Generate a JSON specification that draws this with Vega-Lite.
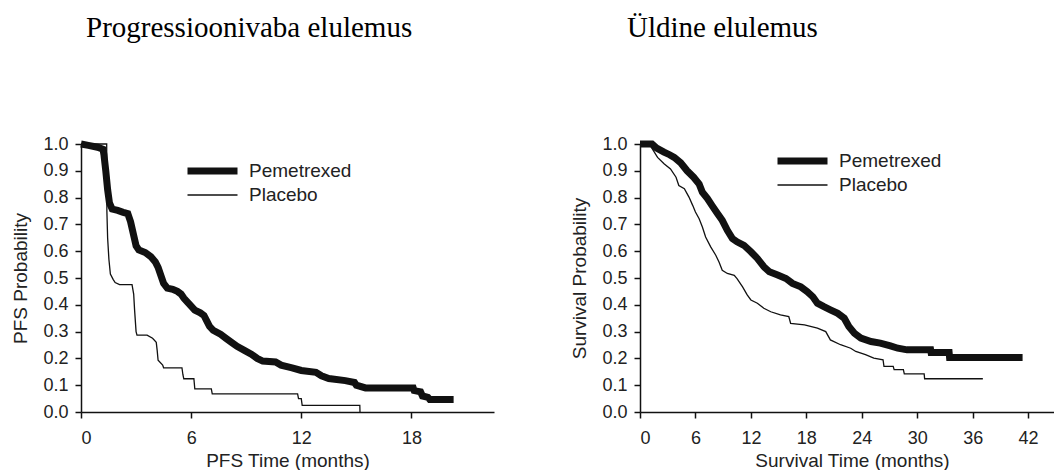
{
  "$schema": "https://vega.github.io/schema/vega-lite/v6.json",
  "padding": {"left": 11, "top": 14, "right": 0, "bottom": 0},
  "background": "white",
  "spacing": 76,
  "resolve": {
    "scale": {"strokeWidth": "independent"},
    "legend": {"strokeWidth": "independent"}
  },
  "datasets": {
    "pfs": [
      {"arm": "Pemetrexed", "t": 0, "p": 1.0},
      {"arm": "Pemetrexed", "t": 0.4, "p": 0.995},
      {"arm": "Pemetrexed", "t": 0.9, "p": 0.988},
      {"arm": "Pemetrexed", "t": 1.2, "p": 0.98},
      {"arm": "Pemetrexed", "t": 1.25, "p": 0.96},
      {"arm": "Pemetrexed", "t": 1.35, "p": 0.9},
      {"arm": "Pemetrexed", "t": 1.45, "p": 0.83},
      {"arm": "Pemetrexed", "t": 1.55, "p": 0.78},
      {"arm": "Pemetrexed", "t": 1.7, "p": 0.757},
      {"arm": "Pemetrexed", "t": 2.0, "p": 0.752},
      {"arm": "Pemetrexed", "t": 2.3, "p": 0.745},
      {"arm": "Pemetrexed", "t": 2.55, "p": 0.74},
      {"arm": "Pemetrexed", "t": 2.7, "p": 0.71},
      {"arm": "Pemetrexed", "t": 2.8, "p": 0.68},
      {"arm": "Pemetrexed", "t": 2.9, "p": 0.65},
      {"arm": "Pemetrexed", "t": 3.0, "p": 0.62},
      {"arm": "Pemetrexed", "t": 3.15, "p": 0.605},
      {"arm": "Pemetrexed", "t": 3.5, "p": 0.595},
      {"arm": "Pemetrexed", "t": 3.8, "p": 0.58},
      {"arm": "Pemetrexed", "t": 4.05, "p": 0.56},
      {"arm": "Pemetrexed", "t": 4.2, "p": 0.54},
      {"arm": "Pemetrexed", "t": 4.35, "p": 0.51},
      {"arm": "Pemetrexed", "t": 4.5, "p": 0.48},
      {"arm": "Pemetrexed", "t": 4.7, "p": 0.462},
      {"arm": "Pemetrexed", "t": 5.0, "p": 0.458},
      {"arm": "Pemetrexed", "t": 5.25, "p": 0.45},
      {"arm": "Pemetrexed", "t": 5.45, "p": 0.44},
      {"arm": "Pemetrexed", "t": 5.6, "p": 0.425},
      {"arm": "Pemetrexed", "t": 5.8, "p": 0.41},
      {"arm": "Pemetrexed", "t": 6.0, "p": 0.395},
      {"arm": "Pemetrexed", "t": 6.2, "p": 0.38},
      {"arm": "Pemetrexed", "t": 6.5, "p": 0.37},
      {"arm": "Pemetrexed", "t": 6.7, "p": 0.36},
      {"arm": "Pemetrexed", "t": 6.85, "p": 0.34},
      {"arm": "Pemetrexed", "t": 7.0, "p": 0.32},
      {"arm": "Pemetrexed", "t": 7.2, "p": 0.305},
      {"arm": "Pemetrexed", "t": 7.6, "p": 0.29},
      {"arm": "Pemetrexed", "t": 7.9, "p": 0.275},
      {"arm": "Pemetrexed", "t": 8.2, "p": 0.26},
      {"arm": "Pemetrexed", "t": 8.5, "p": 0.245},
      {"arm": "Pemetrexed", "t": 8.9, "p": 0.23},
      {"arm": "Pemetrexed", "t": 9.3, "p": 0.215},
      {"arm": "Pemetrexed", "t": 9.6, "p": 0.2},
      {"arm": "Pemetrexed", "t": 9.9, "p": 0.19},
      {"arm": "Pemetrexed", "t": 10.6, "p": 0.187},
      {"arm": "Pemetrexed", "t": 10.9, "p": 0.175},
      {"arm": "Pemetrexed", "t": 11.5, "p": 0.165},
      {"arm": "Pemetrexed", "t": 12.0, "p": 0.155},
      {"arm": "Pemetrexed", "t": 12.8, "p": 0.148},
      {"arm": "Pemetrexed", "t": 13.1, "p": 0.135},
      {"arm": "Pemetrexed", "t": 13.5, "p": 0.125},
      {"arm": "Pemetrexed", "t": 14.4, "p": 0.117},
      {"arm": "Pemetrexed", "t": 14.9, "p": 0.11},
      {"arm": "Pemetrexed", "t": 15.0, "p": 0.1},
      {"arm": "Pemetrexed", "t": 15.5, "p": 0.09},
      {"arm": "Pemetrexed", "t": 18.1, "p": 0.09},
      {"arm": "Pemetrexed", "t": 18.15, "p": 0.08},
      {"arm": "Pemetrexed", "t": 18.5, "p": 0.075},
      {"arm": "Pemetrexed", "t": 18.6, "p": 0.06},
      {"arm": "Pemetrexed", "t": 18.9, "p": 0.055},
      {"arm": "Pemetrexed", "t": 19.0, "p": 0.047},
      {"arm": "Pemetrexed", "t": 20.3, "p": 0.047},
      {"arm": "Placebo", "t": 0, "p": 1.0},
      {"arm": "Placebo", "t": 1.4, "p": 1.0},
      {"arm": "Placebo", "t": 1.41, "p": 0.75},
      {"arm": "Placebo", "t": 1.45, "p": 0.65},
      {"arm": "Placebo", "t": 1.52, "p": 0.57},
      {"arm": "Placebo", "t": 1.6, "p": 0.515},
      {"arm": "Placebo", "t": 1.75, "p": 0.495},
      {"arm": "Placebo", "t": 1.86, "p": 0.483},
      {"arm": "Placebo", "t": 2.1, "p": 0.475},
      {"arm": "Placebo", "t": 2.78, "p": 0.475},
      {"arm": "Placebo", "t": 2.87, "p": 0.44},
      {"arm": "Placebo", "t": 2.92, "p": 0.38},
      {"arm": "Placebo", "t": 3.0, "p": 0.3},
      {"arm": "Placebo", "t": 3.05, "p": 0.287},
      {"arm": "Placebo", "t": 3.6, "p": 0.287},
      {"arm": "Placebo", "t": 3.9, "p": 0.275},
      {"arm": "Placebo", "t": 4.1, "p": 0.26},
      {"arm": "Placebo", "t": 4.15, "p": 0.23},
      {"arm": "Placebo", "t": 4.2, "p": 0.193},
      {"arm": "Placebo", "t": 4.45, "p": 0.175},
      {"arm": "Placebo", "t": 4.5, "p": 0.165},
      {"arm": "Placebo", "t": 5.5, "p": 0.165},
      {"arm": "Placebo", "t": 5.55, "p": 0.14},
      {"arm": "Placebo", "t": 5.6, "p": 0.124},
      {"arm": "Placebo", "t": 6.15, "p": 0.124},
      {"arm": "Placebo", "t": 6.2, "p": 0.086},
      {"arm": "Placebo", "t": 7.1, "p": 0.086},
      {"arm": "Placebo", "t": 7.15, "p": 0.068},
      {"arm": "Placebo", "t": 11.8, "p": 0.068},
      {"arm": "Placebo", "t": 11.85, "p": 0.05},
      {"arm": "Placebo", "t": 12.0, "p": 0.05},
      {"arm": "Placebo", "t": 12.05, "p": 0.025},
      {"arm": "Placebo", "t": 15.19, "p": 0.025},
      {"arm": "Placebo", "t": 15.2, "p": 0.0}
    ],
    "os": [
      {"arm": "Pemetrexed", "t": 0, "p": 1.0},
      {"arm": "Pemetrexed", "t": 1.3, "p": 1.0},
      {"arm": "Pemetrexed", "t": 1.8, "p": 0.985},
      {"arm": "Pemetrexed", "t": 2.6, "p": 0.97},
      {"arm": "Pemetrexed", "t": 3.2, "p": 0.96},
      {"arm": "Pemetrexed", "t": 3.7, "p": 0.95},
      {"arm": "Pemetrexed", "t": 4.4, "p": 0.93},
      {"arm": "Pemetrexed", "t": 5.1, "p": 0.9},
      {"arm": "Pemetrexed", "t": 5.8, "p": 0.876},
      {"arm": "Pemetrexed", "t": 6.4, "p": 0.851},
      {"arm": "Pemetrexed", "t": 6.75, "p": 0.82},
      {"arm": "Pemetrexed", "t": 7.3, "p": 0.796},
      {"arm": "Pemetrexed", "t": 7.8, "p": 0.77},
      {"arm": "Pemetrexed", "t": 8.4, "p": 0.74},
      {"arm": "Pemetrexed", "t": 8.9, "p": 0.715},
      {"arm": "Pemetrexed", "t": 9.45, "p": 0.678},
      {"arm": "Pemetrexed", "t": 10.0, "p": 0.647},
      {"arm": "Pemetrexed", "t": 10.5, "p": 0.635},
      {"arm": "Pemetrexed", "t": 11.25, "p": 0.622},
      {"arm": "Pemetrexed", "t": 12.0, "p": 0.598},
      {"arm": "Pemetrexed", "t": 12.7, "p": 0.573},
      {"arm": "Pemetrexed", "t": 13.4, "p": 0.542},
      {"arm": "Pemetrexed", "t": 14.0, "p": 0.523},
      {"arm": "Pemetrexed", "t": 14.9, "p": 0.511},
      {"arm": "Pemetrexed", "t": 15.8, "p": 0.498},
      {"arm": "Pemetrexed", "t": 16.5, "p": 0.48},
      {"arm": "Pemetrexed", "t": 17.4, "p": 0.467},
      {"arm": "Pemetrexed", "t": 18.1, "p": 0.449},
      {"arm": "Pemetrexed", "t": 18.7, "p": 0.43},
      {"arm": "Pemetrexed", "t": 19.2, "p": 0.406},
      {"arm": "Pemetrexed", "t": 19.9, "p": 0.393},
      {"arm": "Pemetrexed", "t": 20.6, "p": 0.381},
      {"arm": "Pemetrexed", "t": 21.4, "p": 0.368},
      {"arm": "Pemetrexed", "t": 22.1, "p": 0.35},
      {"arm": "Pemetrexed", "t": 22.6, "p": 0.319},
      {"arm": "Pemetrexed", "t": 23.2, "p": 0.294},
      {"arm": "Pemetrexed", "t": 23.9, "p": 0.276},
      {"arm": "Pemetrexed", "t": 25.0, "p": 0.263},
      {"arm": "Pemetrexed", "t": 26.0, "p": 0.257},
      {"arm": "Pemetrexed", "t": 27.1, "p": 0.247},
      {"arm": "Pemetrexed", "t": 27.9, "p": 0.238},
      {"arm": "Pemetrexed", "t": 28.9, "p": 0.232},
      {"arm": "Pemetrexed", "t": 31.45, "p": 0.232},
      {"arm": "Pemetrexed", "t": 31.5, "p": 0.222},
      {"arm": "Pemetrexed", "t": 33.45, "p": 0.222},
      {"arm": "Pemetrexed", "t": 33.5, "p": 0.203},
      {"arm": "Pemetrexed", "t": 41.4, "p": 0.203},
      {"arm": "Placebo", "t": 0, "p": 1.0},
      {"arm": "Placebo", "t": 1.0, "p": 1.0},
      {"arm": "Placebo", "t": 1.9, "p": 0.95},
      {"arm": "Placebo", "t": 2.6, "p": 0.926},
      {"arm": "Placebo", "t": 3.3, "p": 0.907},
      {"arm": "Placebo", "t": 3.9, "p": 0.876},
      {"arm": "Placebo", "t": 4.2, "p": 0.845},
      {"arm": "Placebo", "t": 4.8, "p": 0.833},
      {"arm": "Placebo", "t": 5.3, "p": 0.802},
      {"arm": "Placebo", "t": 5.7, "p": 0.771},
      {"arm": "Placebo", "t": 6.0, "p": 0.746},
      {"arm": "Placebo", "t": 6.4, "p": 0.721},
      {"arm": "Placebo", "t": 6.75, "p": 0.69},
      {"arm": "Placebo", "t": 7.1, "p": 0.653},
      {"arm": "Placebo", "t": 7.65, "p": 0.616},
      {"arm": "Placebo", "t": 8.2, "p": 0.585},
      {"arm": "Placebo", "t": 8.55, "p": 0.56},
      {"arm": "Placebo", "t": 8.9, "p": 0.529},
      {"arm": "Placebo", "t": 9.45, "p": 0.517},
      {"arm": "Placebo", "t": 10.2, "p": 0.51},
      {"arm": "Placebo", "t": 10.5, "p": 0.498},
      {"arm": "Placebo", "t": 11.1, "p": 0.467},
      {"arm": "Placebo", "t": 11.6, "p": 0.437},
      {"arm": "Placebo", "t": 12.0, "p": 0.418},
      {"arm": "Placebo", "t": 12.7, "p": 0.406},
      {"arm": "Placebo", "t": 13.4, "p": 0.387},
      {"arm": "Placebo", "t": 14.15, "p": 0.374},
      {"arm": "Placebo", "t": 15.2, "p": 0.362},
      {"arm": "Placebo", "t": 16.1, "p": 0.356},
      {"arm": "Placebo", "t": 16.3, "p": 0.331},
      {"arm": "Placebo", "t": 17.8, "p": 0.325},
      {"arm": "Placebo", "t": 19.2, "p": 0.313},
      {"arm": "Placebo", "t": 20.1, "p": 0.3},
      {"arm": "Placebo", "t": 20.6, "p": 0.269},
      {"arm": "Placebo", "t": 21.7, "p": 0.251},
      {"arm": "Placebo", "t": 22.8, "p": 0.238},
      {"arm": "Placebo", "t": 23.35, "p": 0.226},
      {"arm": "Placebo", "t": 24.4, "p": 0.214},
      {"arm": "Placebo", "t": 25.3, "p": 0.201},
      {"arm": "Placebo", "t": 26.3, "p": 0.195},
      {"arm": "Placebo", "t": 26.4, "p": 0.17},
      {"arm": "Placebo", "t": 27.4, "p": 0.17},
      {"arm": "Placebo", "t": 27.5, "p": 0.158},
      {"arm": "Placebo", "t": 28.5, "p": 0.158},
      {"arm": "Placebo", "t": 28.6, "p": 0.142},
      {"arm": "Placebo", "t": 30.75, "p": 0.142},
      {"arm": "Placebo", "t": 30.8, "p": 0.124},
      {"arm": "Placebo", "t": 37.1, "p": 0.124}
    ]
  },
  "config": {
    "view": {"stroke": null},
    "font": "Liberation Sans",
    "title": {
      "font": "Liberation Serif",
      "fontSize": 29,
      "fontWeight": "normal",
      "color": "#000000",
      "anchor": "start",
      "frame": "group",
      "baseline": "alphabetic"
    },
    "axis": {
      "grid": false,
      "domainColor": "#111111",
      "domainWidth": 1.5,
      "tickColor": "#111111",
      "tickWidth": 1.5,
      "tickSize": 6,
      "labelFont": "Liberation Sans",
      "labelFontSize": 18,
      "labelColor": "#222222",
      "titleFont": "Liberation Sans",
      "titleFontSize": 19,
      "titleFontWeight": "normal",
      "titleColor": "#222222"
    },
    "axisX": {"labelPadding": 11, "titlePadding": 4},
    "axisY": {"labelPadding": 7, "titlePadding": 12},
    "legend": {
      "orient": "none",
      "title": null,
      "symbolType": "stroke",
      "symbolSize": 2500,
      "symbolStrokeColor": "#111111",
      "labelFont": "Liberation Sans",
      "labelFontSize": 19,
      "labelColor": "#222222",
      "labelOffset": 8,
      "clipHeight": 24,
      "rowPadding": 0
    }
  },
  "hconcat": [
    {
      "title": {"text": "Progressioonivaba elulemus", "offset": 87, "dx": 5},
      "width": 413,
      "height": 268,
      "data": {"name": "pfs"},
      "mark": {"type": "line", "color": "#111111", "interpolate": "linear"},
      "encoding": {
        "x": {
          "field": "t",
          "type": "quantitative",
          "scale": {"domain": [0, 22.5], "nice": false},
          "axis": {"title": "PFS Time (months)", "values": [0, 6, 12, 18]}
        },
        "y": {
          "field": "p",
          "type": "quantitative",
          "scale": {"domain": [0, 1], "nice": false},
          "axis": {
            "title": "PFS Probability",
            "values": [0, 0.1, 0.2, 0.3, 0.4, 0.5, 0.6, 0.7, 0.8, 0.9, 1.0],
            "format": ".1f"
          }
        },
        "strokeWidth": {
          "field": "arm",
          "type": "ordinal",
          "scale": {"domain": ["Pemetrexed", "Placebo"], "range": [7, 1.3]},
          "legend": {"legendX": 103, "legendY": 15}
        }
      }
    },
    {
      "title": {"text": "Üldine elulemus", "offset": 87, "dx": -13},
      "width": 414,
      "height": 268,
      "data": {"name": "os"},
      "mark": {"type": "line", "color": "#111111", "interpolate": "linear"},
      "encoding": {
        "x": {
          "field": "t",
          "type": "quantitative",
          "scale": {"domain": [0, 44.8], "nice": false},
          "axis": {"title": "Survival Time (months)", "titleX": 212, "values": [0, 6, 12, 18, 24, 30, 36, 42]}
        },
        "y": {
          "field": "p",
          "type": "quantitative",
          "scale": {"domain": [0, 1], "nice": false},
          "axis": {
            "title": "Survival Probability",
            "values": [0, 0.1, 0.2, 0.3, 0.4, 0.5, 0.6, 0.7, 0.8, 0.9, 1.0],
            "format": ".1f"
          }
        },
        "strokeWidth": {
          "field": "arm",
          "type": "ordinal",
          "scale": {"domain": ["Pemetrexed", "Placebo"], "range": [7, 1.3]},
          "legend": {"legendX": 134, "legendY": 5}
        }
      }
    }
  ]
}
